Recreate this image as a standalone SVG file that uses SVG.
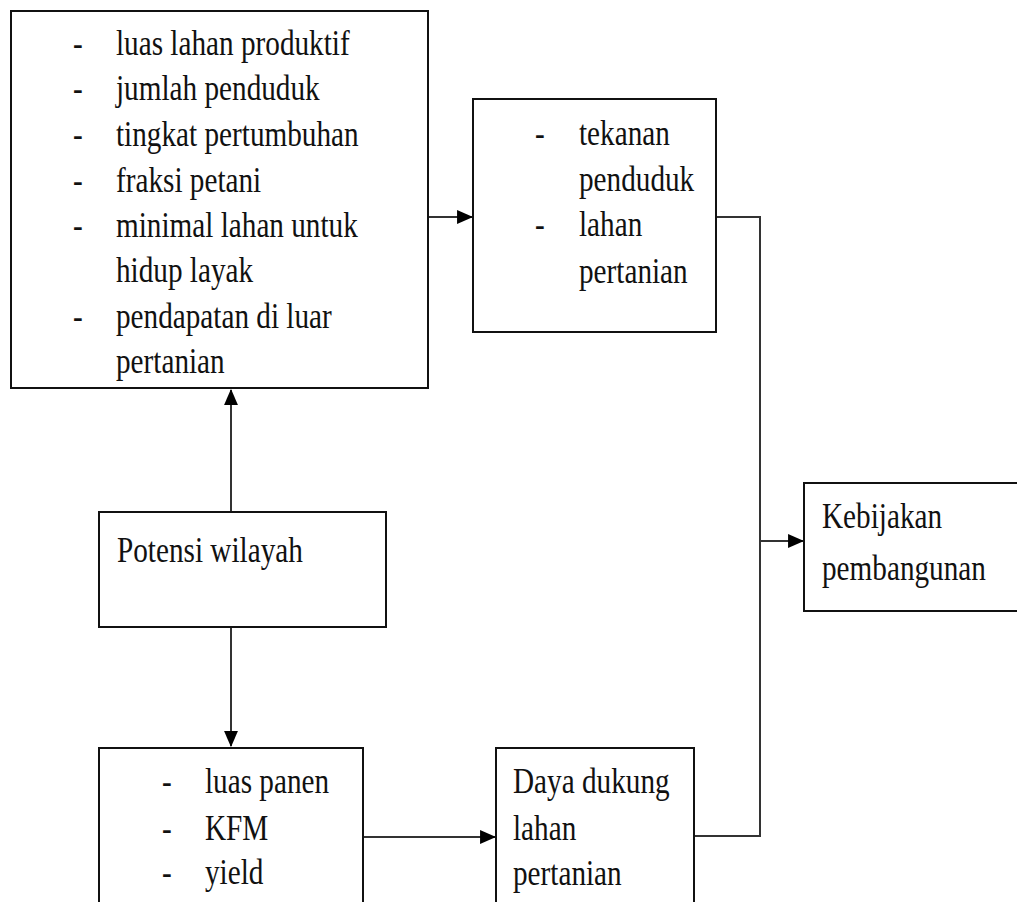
<svg xmlns="http://www.w3.org/2000/svg" width="1017" height="902" viewBox="0 0 1017 902">
<style>
.box{fill:#fff;stroke:#111;stroke-width:2}
.t{font-family:"Liberation Serif","Times New Roman",serif;font-size:35px;fill:#111}
.c{fill:none;stroke:#333;stroke-width:2}
</style>
<defs>
<marker id="ah" markerUnits="userSpaceOnUse" markerWidth="16" markerHeight="14" viewBox="0 0 15 13" refX="14" refY="6.5" orient="auto">
<path d="M0,0 L15,6.5 L0,13 z" fill="#000"/>
</marker>
</defs>
<rect width="1017" height="902" fill="#fff"/>
<g id="connectors">
<line class="c" x1="428" y1="217" x2="472" y2="217" marker-end="url(#ah)"/>
<polyline class="c" points="716,217 760,217 760,836 694,836"/>
<line class="c" x1="760" y1="541" x2="803" y2="541" marker-end="url(#ah)"/>
<line class="c" x1="231" y1="512" x2="231" y2="390" marker-end="url(#ah)"/>
<line class="c" x1="231" y1="627" x2="231" y2="746" marker-end="url(#ah)"/>
<line class="c" x1="363" y1="837" x2="495" y2="837" marker-end="url(#ah)"/>
</g>
<g id="faktor">
<rect class="box" x="11" y="11" width="417" height="377"/>
<text class="t" transform="matrix(0.835,0,0,1,73,55)">-</text>
<text class="t" transform="matrix(0.835,0,0,1,116,55)">luas lahan produktif</text>
<text class="t" transform="matrix(0.835,0,0,1,73,100)">-</text>
<text class="t" transform="matrix(0.835,0,0,1,116,100)">jumlah penduduk</text>
<text class="t" transform="matrix(0.835,0,0,1,73,146)">-</text>
<text class="t" transform="matrix(0.835,0,0,1,116,146)">tingkat pertumbuhan</text>
<text class="t" transform="matrix(0.835,0,0,1,73,192)">-</text>
<text class="t" transform="matrix(0.835,0,0,1,116,192)">fraksi petani</text>
<text class="t" transform="matrix(0.835,0,0,1,73,237)">-</text>
<text class="t" transform="matrix(0.835,0,0,1,116,237)">minimal lahan untuk</text>
<text class="t" transform="matrix(0.835,0,0,1,116,282)">hidup layak</text>
<text class="t" transform="matrix(0.835,0,0,1,73,328)">-</text>
<text class="t" transform="matrix(0.835,0,0,1,116,328)">pendapatan di luar</text>
<text class="t" transform="matrix(0.835,0,0,1,116,373)">pertanian</text>
</g>
<g id="tekanan">
<rect class="box" x="473" y="99" width="243" height="233"/>
<text class="t" transform="matrix(0.835,0,0,1,535,145)">-</text>
<text class="t" transform="matrix(0.835,0,0,1,579,145)">tekanan</text>
<text class="t" transform="matrix(0.835,0,0,1,579,191)">penduduk</text>
<text class="t" transform="matrix(0.835,0,0,1,535,236)">-</text>
<text class="t" transform="matrix(0.835,0,0,1,579,236)">lahan</text>
<text class="t" transform="matrix(0.835,0,0,1,579,283)">pertanian</text>
</g>
<g id="kebijakan">
<rect class="box" x="804" y="483" width="220" height="128"/>
<text class="t" transform="matrix(0.835,0,0,1,822,528)">Kebijakan</text>
<text class="t" transform="matrix(0.835,0,0,1,822,580)">pembangunan</text>
</g>
<g id="potensi">
<rect class="box" x="99" y="512" width="287" height="115"/>
<text class="t" transform="matrix(0.835,0,0,1,117,562)">Potensi wilayah</text>
</g>
<g id="panen">
<rect class="box" x="99" y="748" width="264" height="160"/>
<text class="t" transform="matrix(0.835,0,0,1,162,793)">-</text>
<text class="t" transform="matrix(0.835,0,0,1,205,793)">luas panen</text>
<text class="t" transform="matrix(0.835,0,0,1,162,840)">-</text>
<text class="t" transform="matrix(0.835,0,0,1,205,840)">KFM</text>
<text class="t" transform="matrix(0.835,0,0,1,162,884)">-</text>
<text class="t" transform="matrix(0.835,0,0,1,205,884)">yield</text>
</g>
<g id="dayadukung">
<rect class="box" x="496" y="748" width="198" height="160"/>
<text class="t" transform="matrix(0.835,0,0,1,513,793)">Daya dukung</text>
<text class="t" transform="matrix(0.835,0,0,1,513,840)">lahan</text>
<text class="t" transform="matrix(0.835,0,0,1,513,885)">pertanian</text>
</g>
</svg>
